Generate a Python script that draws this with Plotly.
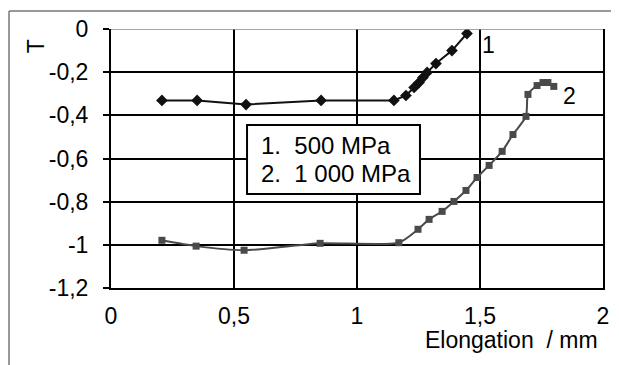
import plotly.graph_objects as go

# Series 1: 500 MPa
x1 = [0.207, 0.35, 0.549, 0.854, 1.15, 1.199, 1.232, 1.252, 1.268, 1.285, 1.321, 1.386, 1.447]
y1 = [-0.331, -0.331, -0.35, -0.331, -0.331, -0.308, -0.271, -0.248, -0.225, -0.201, -0.16, -0.10, -0.021]

# Series 2: 1 000 MPa
x2 = [0.207, 0.346, 0.541, 0.85, 1.17, 1.248, 1.293, 1.346, 1.394, 1.443, 1.488, 1.537,
      1.59, 1.634, 1.687, 1.695, 1.732, 1.756, 1.776, 1.80]
y2 = [-0.979, -1.006, -1.025, -0.993, -0.99, -0.928, -0.882, -0.845, -0.799, -0.748, -0.688,
      -0.632, -0.567, -0.489, -0.405, -0.303, -0.262, -0.248, -0.248, -0.266]

x_ticks = [0, 0.5, 1, 1.5, 2]
x_tick_labels = ["0", "0,5", "1", "1,5", "2"]
y_ticks = [0, -0.2, -0.4, -0.6, -0.8, -1, -1.2]
y_tick_labels = ["0", "-0,2", "-0,4", "-0,6", "-0,8", "-1", "-1,2"]

legend_lines = ["1.&nbsp; 500 MPa", "2.&nbsp; 1 000 MPa"]

FONT = "Liberation Sans, Arial, sans-serif"

fig = go.Figure()
fig.add_trace(go.Scatter(x=x1, y=y1, mode="lines+markers",
                         line=dict(color="#111111", width=2),
                         marker=dict(symbol="diamond", size=9, color="#111111"),
                         showlegend=False))
fig.add_trace(go.Scatter(x=x2, y=y2, mode="lines+markers",
                         line=dict(color="#4a4a4a", width=2, shape="spline", smoothing=0.6),
                         marker=dict(symbol="square", size=7, color="#4a4a4a"),
                         showlegend=False))

# legend box
fig.add_shape(type="rect", xref="x", yref="y", x0=0.553, x1=1.256, y0=-0.445, y1=-0.765,
              line=dict(color="black", width=2), fillcolor="white", layer="above")
fig.add_annotation(x=0.602, y=-0.539, xref="x", yref="y", text=legend_lines[0],
                   showarrow=False, xanchor="left", yanchor="middle",
                   font=dict(size=24, color="black", family=FONT))
fig.add_annotation(x=0.602, y=-0.669, xref="x", yref="y", text=legend_lines[1],
                   showarrow=False, xanchor="left", yanchor="middle",
                   font=dict(size=24, color="black", family=FONT))

# series labels
fig.add_annotation(x=1.533, y=-0.076, xref="x", yref="y", text="1", showarrow=False,
                   font=dict(size=23, color="black", family=FONT))
fig.add_annotation(x=1.862, y=-0.312, xref="x", yref="y", text="2", showarrow=False,
                   font=dict(size=23, color="black", family=FONT))

# axis titles
fig.add_annotation(x=0.815, y=-0.2, xref="paper", yref="paper", text="Elongation&nbsp; / mm",
                   showarrow=False, xanchor="center", yanchor="middle",
                   font=dict(size=23, color="black", family=FONT))
fig.add_annotation(x=-0.152, y=0.934, xref="paper", yref="paper", text="T", textangle=-90,
                   showarrow=False, xanchor="center", yanchor="middle",
                   font=dict(size=23, color="black", family=FONT))

# top border (gray) and outer frame
fig.add_shape(type="line", xref="paper", yref="y", x0=0, x1=1, y0=0, y1=0,
              line=dict(color="#888888", width=1.5), layer="above")
fig.add_shape(type="line", xref="paper", yref="paper", x0=-0.2073, x1=1.04, y0=1.0695, y1=1.0695,
              line=dict(color="#777777", width=1.5))
fig.add_shape(type="line", xref="paper", yref="paper", x0=-0.2073, x1=-0.2073, y0=1.0695, y1=-0.31,
              line=dict(color="#777777", width=1.5))

# page body has an 8px margin: figure is shifted accordingly
fig.update_layout(
    width=611, height=357,
    margin=dict(l=103, r=16, t=21, b=77),
    paper_bgcolor="white", plot_bgcolor="white",
    font=dict(family=FONT, size=23, color="black"),
    xaxis=dict(range=[0, 2], tickvals=x_ticks, ticktext=x_tick_labels,
               showgrid=True, gridcolor="black", gridwidth=2,
               showline=True, linecolor="black", linewidth=2,
               zeroline=False, ticks="", ticklabelstandoff=6, automargin=False),
    yaxis=dict(range=[-1.2, 0], tickvals=y_ticks, ticktext=y_tick_labels,
               showgrid=True, gridcolor="black", gridwidth=2,
               showline=True, linecolor="black", linewidth=2, mirror=True,
               zeroline=False, ticks="outside", ticklen=6, tickwidth=2, tickcolor="black",
               ticklabelstandoff=10, automargin=False),
)

fig.write_html("out.html")
